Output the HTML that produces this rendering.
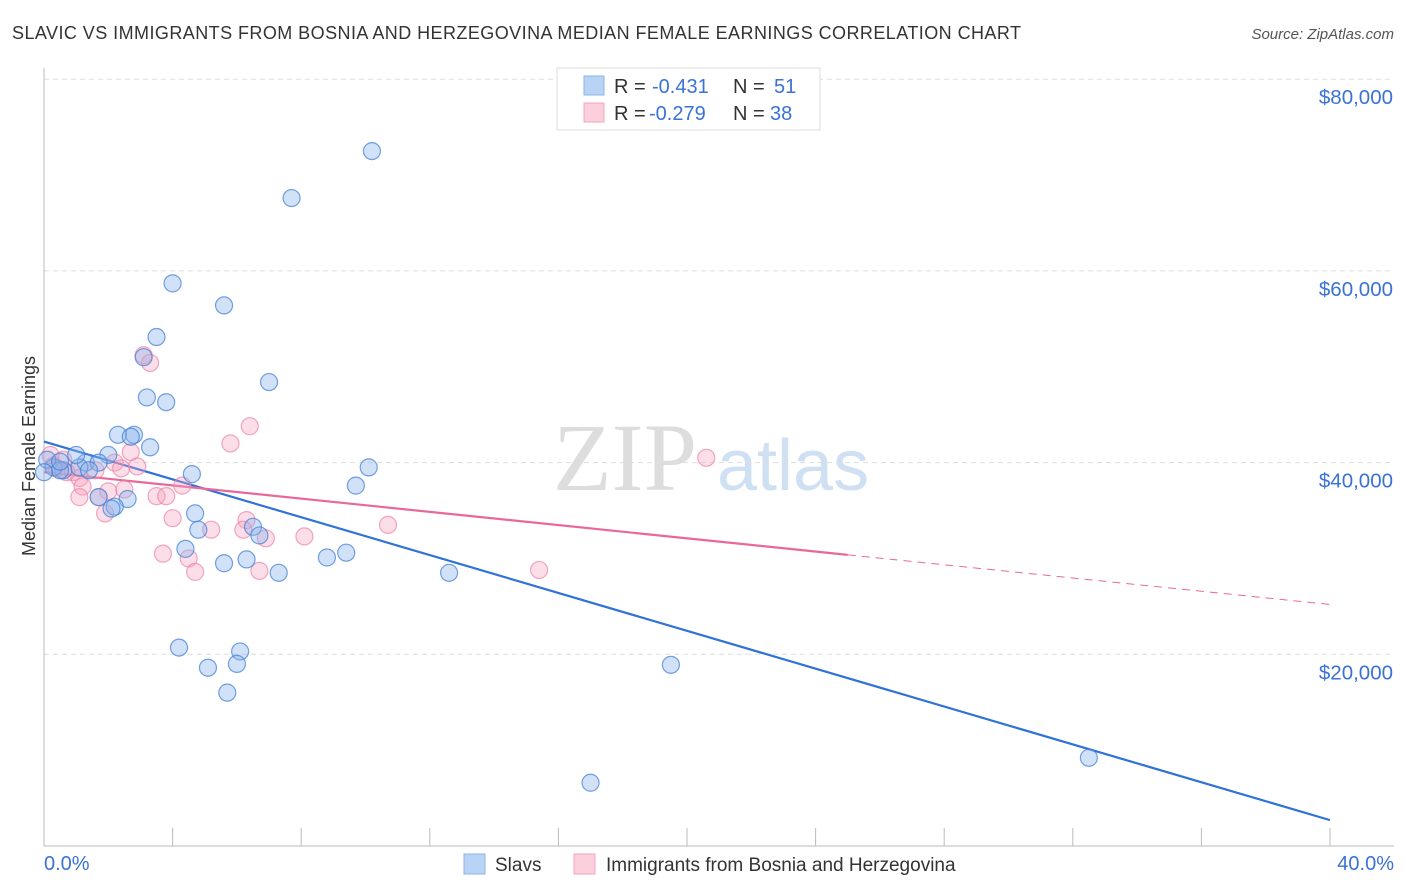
<!DOCTYPE html>
<html><head><meta charset="utf-8"><style>
body{margin:0;background:#fff;font-family:"Liberation Sans",sans-serif;}
svg{display:block}
</style></head><body>
<svg id="chart" width="1406" height="892" font-family="Liberation Sans, sans-serif">
<text x="12" y="39" font-size="18" fill="#333" textLength="1009">SLAVIC VS IMMIGRANTS FROM BOSNIA AND HERZEGOVINA MEDIAN FEMALE EARNINGS CORRELATION CHART</text>
<text x="1394" y="39" font-size="15" fill="#555" font-style="italic" text-anchor="end">Source: ZipAtlas.com</text>
<text x="35" y="456" font-size="18" fill="#333" transform="rotate(-90 35 456)" text-anchor="middle">Median Female Earnings</text>
<g><text x="553" y="490" font-size="96" font-family="Liberation Serif, serif" fill="#ddd">ZIP</text><text x="717" y="490" font-size="72" fill="#cfe0f3">atlas</text></g>
<g id="grid"></g><g id="axes"></g><g id="lines"></g><g id="pts"></g>
<g>
<rect x="557" y="68" width="263" height="62" fill="#fff" stroke="#ddd"/>
<rect x="584" y="76" width="20" height="19" fill="#b9d3f5" stroke="#8ab4ea"/>
<rect x="584" y="103" width="20" height="19" fill="#fbcfdc" stroke="#f3a6bd"/>
<text x="614" y="93" font-size="20" fill="#333">R =</text><text x="652" y="93" font-size="20" fill="#3a72d6">-0.431</text>
<text x="733" y="93" font-size="20" fill="#333">N =</text><text x="774" y="93" font-size="20" fill="#3a72d6">51</text>
<text x="614" y="120" font-size="20" fill="#333">R =</text><text x="649" y="120" font-size="20" fill="#3a72d6">-0.279</text>
<text x="733" y="120" font-size="20" fill="#333">N =</text><text x="770" y="120" font-size="20" fill="#3a72d6">38</text>
</g>
<g>
<rect x="464" y="854" width="21" height="20" fill="#b9d3f5" stroke="#8ab4ea"/>
<text x="495" y="871" font-size="19" fill="#333">Slavs</text>
<rect x="574" y="854" width="21" height="20" fill="#fbcfdc" stroke="#f3a6bd"/>
<text x="606" y="871" font-size="19" fill="#333">Immigrants from Bosnia and Herzegovina</text>
</g>
</svg>
<script>
const xTicks=[0,4,8,12,16,20,24,28,32,36,40];
const yTicks=[20000,40000,60000,80000];
const yTickLabels=["$20,000","$40,000","$60,000","$80,000"];
const slavX=[10.2,7.7,4.0,5.6,3.5,3.1,7.0,3.2,3.8,2.3,2.8,2.7,3.3,2.0,4.6,10.1,9.7,1.3,1.1,0.6,0.3,0.1,0.5,1.7,1.4,2.6,1.7,2.2,2.1,4.7,4.8,6.5,6.7,4.4,8.8,9.4,5.6,6.3,7.3,12.6,4.2,6.1,5.1,6.0,19.5,5.7,32.5,17.0,0.0,0.5,1.0];
const slavY=[72500,67600,58700,56400,53100,51000,48400,46800,46300,42900,42900,42700,41600,40800,38800,39500,37600,40000,39500,39200,39500,40300,39200,40000,39200,36200,36400,35400,35200,34700,33000,33300,32400,31000,30100,30600,29500,29900,28500,28500,20700,20300,18600,19000,18900,16000,9200,6600,39000,40100,40800];
const bosX=[3.1,3.3,6.4,5.8,2.7,20.6,2.9,2.2,2.4,1.6,0.9,1.1,0.3,0.6,0.2,1.2,2.0,2.5,4.3,3.5,3.8,1.1,1.9,4.0,6.3,5.2,6.2,6.9,8.1,10.7,3.7,4.5,4.7,6.7,15.4,1.7,0.4,0.7];
const bosY=[51200,50400,43800,42000,41100,40500,39600,40000,39400,39200,39000,38400,39700,40300,40800,37500,37000,37200,37600,36500,36500,36400,34700,34200,34000,33000,33000,32100,32300,33500,30500,30000,28600,28700,28800,36400,39400,39000];
const slavTrend=[42200,2700];
const bosTrend=[39000,25200];
const bosSolidEnd=25;
const X=v=>44+v/40*1286, Y=v=>846-v/20000*191.7;
const NS="http://www.w3.org/2000/svg";
function mk(p,t,a){const e=document.createElementNS(NS,t);for(const k in a)e.setAttribute(k,a[k]);p.appendChild(e);return e;}
const gridG=document.getElementById('grid'),axesG=document.getElementById('axes'),linesG=document.getElementById('lines'),ptsG=document.getElementById('pts');
yTicks.forEach((v,i)=>{
 const g=mk(gridG,'line',{x1:44,x2:1394,y1:Y(v),y2:Y(v),stroke:'#ddd','stroke-dasharray':'5,4'});
 
 
 const t=mk(axesG,'text',{x:1393,y:Y(v)+25,'font-size':20.5,fill:'#3a72d6','text-anchor':'end'});
 t.textContent=yTickLabels[i];
 
 
});
mk(axesG,'line',{x1:44,x2:44,y1:68,y2:846,stroke:'#bbb'});
mk(axesG,'line',{x1:44,x2:1394,y1:846,y2:846,stroke:'#bbb'});
xTicks.forEach(v=>{const l=mk(axesG,'line',{x1:X(v),x2:X(v),y1:828,y2:846,stroke:'#bbb'});
 
 });
let t0=mk(axesG,'text',{x:44,y:870,'font-size':20,fill:'#3a72d6'});t0.textContent=xTicks[0].toFixed(1)+'%';


let t1=mk(axesG,'text',{x:1394,y:870,'font-size':20,fill:'#3a72d6','text-anchor':'end'});t1.textContent=xTicks[xTicks.length-1].toFixed(1)+'%';


function dots(xs,ys,fill,stroke,name){xs.forEach((x,i)=>{const c=mk(ptsG,'circle',{cx:X(x),cy:Y(ys[i]),r:8.5,fill:fill,stroke:stroke,'stroke-width':1.2});
 
 });}
dots(bosX,bosY,'rgba(246,160,188,0.35)','rgba(238,130,165,0.7)','bosnia-point');
dots(slavX,slavY,'rgba(140,180,235,0.4)','rgba(70,130,215,0.75)','slav-point');
const lb=mk(linesG,'line',{x1:X(0),y1:Y(slavTrend[0]),x2:X(40),y2:Y(slavTrend[1]),stroke:'#2f72d8','stroke-width':2.2});


const bAt=x=>bosTrend[0]+(bosTrend[1]-bosTrend[0])*x/40;
const lp=mk(linesG,'line',{x1:X(0),y1:Y(bAt(0)),x2:X(bosSolidEnd),y2:Y(bAt(bosSolidEnd)),stroke:'#e8689a','stroke-width':2.2});


const ld=mk(linesG,'line',{x1:X(bosSolidEnd),y1:Y(bAt(bosSolidEnd)),x2:X(40),y2:Y(bAt(40)),stroke:'#e8689a','stroke-width':1,'stroke-dasharray':'8,6'});


</script>
</body></html>
